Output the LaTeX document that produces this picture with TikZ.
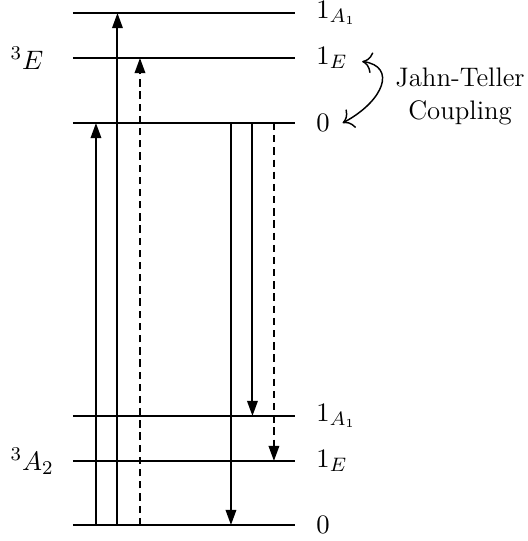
\documentclass[tikz,border=0pt]{standalone}
\usetikzlibrary{arrows.meta}

\begin{document}
\begin{tikzpicture}[
  font=\fontsize{11}{13.6}\selectfont,
  level/.style={thick},
  trans/.style={thick, -{Triangle[length=6.2pt,width=4.3pt]}},
  dtrans/.style={trans, dash pattern=on 3pt off 2pt},
  lab/.style={anchor=west}
]
\useasboundingbox (-1.053,-0.231) rectangle (6.566,7.576);

%---------------------------------------
% Level energies
%---------------------------------------
\def\Lend{3.2}
\def\gZero{0}
\def\gE{0.924}
\def\gA{1.573}
\def\eZero{5.801}
\def\eE{6.739}
\def\eA{7.388}

%---------------------------------------
% Levels and labels
%---------------------------------------
\foreach \y in {\gZero,\gE,\gA,\eZero,\eE,\eA}{
  \draw[level] (0,\y) -- (\Lend,\y);
}

\node[lab] (eALab) at (3.39,\eA) {$1_{A_1}$};
\node[lab] (eELab) at (3.39,\eE) {$1_E$};
\node[lab] (eZeroLab) at (3.39,\eZero) {$0$};
\node[lab] (gALab) at (3.39,\gA) {$1_{A_1}$};
\node[lab] (gELab) at (3.39,\gE) {$1_E$};
\node[lab] (gZeroLab) at (3.39,\gZero) {$0$};

% multiplets
\node[lab] (tripE) at (-1.025,\eE) {$^3E$};
\node[lab] (tripA) at (-1.025,\gE) {$^3A_2$};

%---------------------------------------
% Absorption (up)
%---------------------------------------
\foreach \x/\yto in {0.332/\eZero,0.642/\eA}{
  \draw[trans] (\x,\gZero) -- (\x,\yto);
}
\draw[dtrans] (0.967,\gZero) -- (0.967,\eE);

%---------------------------------------
% Emission (down)
%---------------------------------------
\foreach \x/\yto in {2.28/\gZero,2.590/\gA}{
  \draw[trans] (\x,\eZero) -- (\x,\yto);
}
\draw[dtrans] (2.900,\eZero) -- (2.900,\gE);

%---------------------------------------
% Jahn-Teller coupling
%---------------------------------------
\node[align=center] (jt) at (5.585,6.19) {Jahn-Teller\\Coupling};
\draw[semithick, {To[scale=1.4]}-{To[scale=1.4]}]
  ([xshift=0.9mm,yshift=-0.5mm]eELab.east)
  .. controls +(0.5,-0.07) and +(0.6,0.32) .. ([xshift=0.6mm]eZeroLab.east);

\end{tikzpicture}
\end{document}
